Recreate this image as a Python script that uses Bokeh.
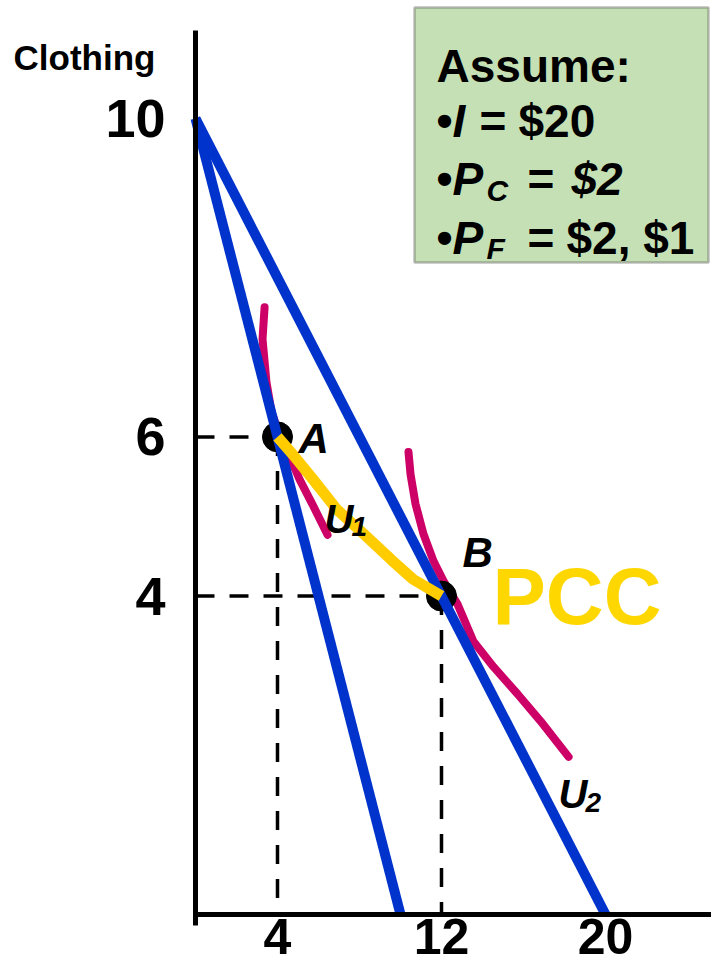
from bokeh.plotting import figure
from bokeh.models import FixedTicker, Label, BoxAnnotation, ColumnDataSource, Range1d
from bokeh.core.properties import value
from bokeh.embed import file_html
from bokeh.resources import INLINE

# ---------------- data ----------------
income = 20
price_clothing = 2
price_food = [2, 1]
food_opt = [4, 12]
clothing_opt = [6, 4]
point_names = ["A", "B"]
x_ticks = [4, 12, 20]
y_ticks = [4, 6, 10]

u1_food = [3.37, 3.27, 3.46, 3.71, 4.00, 4.44, 5.07, 5.71, 6.44]
u1_clothing = [7.63, 7.23, 6.69, 6.31, 6.10, 5.85, 5.47, 5.15, 4.77]
u2_food = [10.39, 10.49, 10.73, 11.12, 11.61, 12.10, 12.78, 13.56, 14.54, 15.71, 16.83, 18.20]
u2_clothing = [5.81, 5.53, 5.16, 4.78, 4.44, 4.19, 3.90, 3.43, 3.11, 2.77, 2.43, 1.98]
pcc_food = [4.00, 4.71, 5.66, 6.89, 8.17, 9.58, 10.62, 12.00]
pcc_clothing = [6.00, 5.79, 5.49, 5.09, 4.79, 4.45, 4.21, 4.00]

FONT = "Liberation Sans"
BLUE = "#0033CC"
MAGENTA = "#CC0066"
YELLOW = "#FFCC00"

W, H = 711, 967
X0, Y0 = 195, 914          # canvas position of the origin
SX, SY = 20.5, 79.6        # pixels per unit

p = figure(width=W, height=H,
           x_range=Range1d(-X0 / SX, (W - X0) / SX),
           y_range=Range1d(-(H - Y0) / SY, Y0 / SY),
           output_backend="svg", toolbar_location=None,
           min_border=0, min_border_left=0, min_border_right=0,
           min_border_top=0, min_border_bottom=0)
p.title.visible = False
p.outline_line_color = None
p.xgrid.visible = False
p.ygrid.visible = False
p.background_fill_color = "white"

xa = p.xaxis[0]
ya = p.yaxis[0]
xa.fixed_location = 0
ya.fixed_location = 0
xa.bounds = (-0.12, (W - X0) / SX)
ya.bounds = (-0.14, (Y0 - 30) / SY)
xa.ticker = FixedTicker(ticks=x_ticks)
ya.ticker = FixedTicker(ticks=y_ticks)
for ax in (xa, ya):
    ax.axis_line_width = 5
    ax.axis_line_color = "black"
    ax.major_tick_line_color = None
    ax.minor_tick_line_color = None
    ax.major_tick_out = 0
    ax.major_tick_in = 0
    ax.major_label_text_font = FONT
    ax.major_label_text_font_style = "bold"
    ax.major_label_text_color = "black"
ya.major_label_text_font_size = "54px"
ya.major_label_standoff = 30
xa.major_label_text_font_size = "50px"
xa.major_label_standoff = 4

# dashed guide lines
guides = ColumnDataSource(dict(
    xs=[[0, f] for f in food_opt] + [[f, f] for f in food_opt],
    ys=[[c, c] for c in clothing_opt] + [[c, 0] for c in clothing_opt],
))
p.multi_line(xs="xs", ys="ys", source=guides, line_color="black",
             line_width=3.5, line_dash="19 15")

# indifference curves
p.line(u1_food, u1_clothing, line_color=MAGENTA, line_width=8, line_cap="round")
p.line(u2_food, u2_clothing, line_color=MAGENTA, line_width=8, line_cap="round")

# optimum points
p.scatter(food_opt, clothing_opt, size=30, color="black")

# budget lines
c_int = income / price_clothing
budget = ColumnDataSource(dict(
    xs=[[0, income / pf] for pf in price_food],
    ys=[[c_int, 0] for pf in price_food],
))
p.multi_line(xs="xs", ys="ys", source=budget, line_color=BLUE, line_width=10)

# price-consumption curve
p.line(pcc_food, pcc_clothing, line_color=YELLOW, line_width=11)

# point labels
p.text(x=food_opt[:1], y=clothing_opt[:1], text=point_names[:1], x_offset=21, y_offset=2,
       text_font=value(FONT), text_font_size="42px", text_font_style="bold italic",
       text_baseline="alphabetic", text_color="black")
p.text(x=food_opt[1:], y=clothing_opt[1:], text=point_names[1:], x_offset=21, y_offset=-44,
       text_font=value(FONT), text_font_size="42px", text_font_style="bold italic",
       text_baseline="alphabetic", text_color="black")

# curve labels
def curve_label(i, main, sub, dx, dy, sdx, sdy):
    p.text(x=[food_opt[i]], y=[clothing_opt[i]], text=[main], x_offset=dx, y_offset=dy,
           text_font=value(FONT), text_font_size="40px", text_font_style="bold italic",
           text_baseline="alphabetic", text_color="black")
    p.text(x=[food_opt[i]], y=[clothing_opt[i]], text=[sub], x_offset=sdx, y_offset=sdy,
           text_font=value(FONT), text_font_size="28px", text_font_style="bold italic",
           text_baseline="alphabetic", text_color="black")

curve_label(0, "U", "1", 47, 82, 74, 90)
curve_label(1, "U", "2", 117, 198, 144, 206)

p.text(x=food_opt[1:], y=clothing_opt[1:], text=["PCC"], x_offset=51, y_offset=0,
       text_font=value(FONT), text_font_size="80px", text_font_style="bold",
       text_baseline="alphabetic", text_color="#FFD700")

# axis title (screen units measured from the canvas bottom-left)
p.add_layout(Label(x=13, y=H - 57, x_units="screen", y_units="screen", text="Clothing",
                   text_baseline="alphabetic", text_font=FONT, text_font_size="35px",
                   text_font_style="bold", text_color="black"))

# assumptions box
p.add_layout(BoxAnnotation(left=414, right=708, top=H - 7, bottom=H - 262,
                           left_units="screen", right_units="screen",
                           top_units="screen", bottom_units="screen",
                           fill_color="#C5E0B4", fill_alpha=1.0,
                           line_color="#2b2b2b", line_width=2.5))

def box_text(x, y, txt, size="46px", style="bold"):
    p.add_layout(Label(x=x, y=H - y, x_units="screen", y_units="screen", text=txt,
                       text_baseline="alphabetic", text_font=FONT,
                       text_font_size=size, text_font_style=style, text_color="black"))

box_text(436, 65, "Assume:")
box_text(436, 120, "\u2022")
box_text(452, 120, "I", style="bold italic")
box_text(479, 120, "=")
box_text(518, 120, "$20")
box_text(436, 178, "\u2022")
box_text(452, 178, "P", style="bold italic")
box_text(486, 190, "C", size="30px", style="bold italic")
box_text(527, 178, "=")
box_text(571, 178, "$2", style="bold italic")
box_text(436, 237, "\u2022")
box_text(452, 237, "P", style="bold italic")
box_text(486, 248, "F", size="30px", style="bold italic")
box_text(527, 237, "=")
box_text(566, 237, "$2, $1")

open("out.html", "w").write(file_html(p, INLINE))
